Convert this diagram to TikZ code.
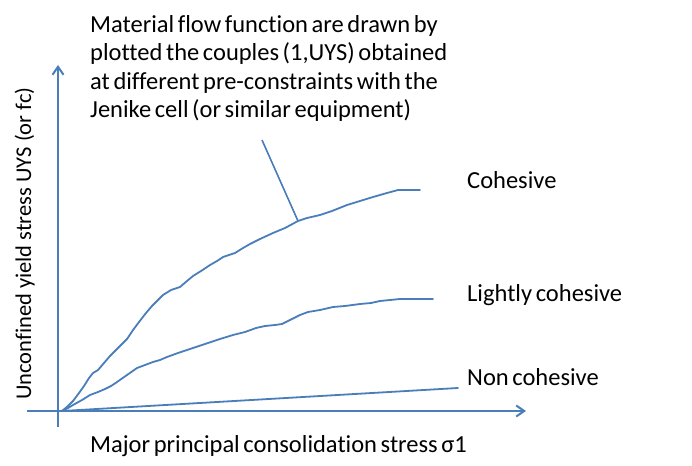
\documentclass[tikz,border=0pt]{standalone}
\usepackage{fontspec}
\setmainfont{Carlito}[Ligatures=NoCommon, WordSpace=0.65]
\newfontfamily\widespaced{Carlito}[Ligatures=NoCommon]
\usetikzlibrary{arrows.meta}
\definecolor{flowblue}{HTML}{4A7EBB}
\tikzset{
  % axes and curves
  axisline/.style={draw=flowblue, line width=2pt, -{Straight Barb[length=8pt,width=11pt]}},
  flowcurve/.style={draw=flowblue, line width=1.8pt, line join=round, line cap=round},
  pointer/.style={draw=flowblue, line width=1.6pt},
  % texts
  plaintext/.style={inner sep=0pt, font=\fontsize{24.5}{28.5}\selectfont},
  sidetext/.style={inner sep=0pt, font=\widespaced\fontsize{22.5}{27}\selectfont},
}

\begin{document}
\begin{tikzpicture}[x=1pt,y=-1pt]
  \useasboundingbox (0,0) rectangle (692,465);
  \coordinate (origin) at (62,411);
  \coordinate (xstart) at (27,411);
  \coordinate (xend) at (526,411);
  \coordinate (ystart) at (58,427);
  \coordinate (yend) at (58,65);
  \draw[axisline] (xstart) -- (xend);
  \draw[axisline] (ystart) -- (yend);
  % flow functions
  \draw[flowcurve] plot coordinates {(62,411) (68,406) (73,401) (79,393)
    (84,386) (89,378) (93,373) (98,370) (104,363) (110,356) (118,348)
    (127,339) (133,330) (139,322) (146,313) (152,306) (158,300) (163,295)
    (171,290) (180,287) (187,281) (193,276) (201,271) (210,265) (217,261)
    (223,257) (229,255) (235,253) (243,248) (250,244) (260,239) (273,233)
    (285,228) (298,221) (307,218) (320,215) (332,211) (337,209) (347,205)
    (360,201) (373,197) (387,193) (398,190) (420,190)};
  \draw[flowcurve] plot coordinates {(62,411) (68,408) (73,405) (82,400)
    (90,395) (98,392) (105,389) (111,386) (117,382) (127,375) (137,368)
    (145,365) (153,362) (160,360) (167,357) (178,353) (190,349) (205,344)
    (220,339) (233,335) (245,332) (256,328) (265,326) (275,325) (282,324)
    (290,320) (300,315) (308,312) (320,310) (333,307) (345,306) (360,304)
    (371,303) (380,301) (390,300) (400,299) (433,299)};
  \coordinate (nonend) at (458,388);
  \draw[flowcurve] (origin) -- (nonend);
  % note and its pointer
  \node[plaintext, align=left, anchor=north west] (note) at (90,15)
    {Material flow function are drawn by\\plotted the couples (1,UYS) obtained\\at different pre-constraints with the\\Jenike cell (or similar equipment)};
  \coordinate (notefoot) at (262,140);
  \coordinate (notetip) at (298,221);
  \draw[pointer] (notefoot) -- (notetip);
  \node[plaintext, anchor=base west] (cohesive) at (467,188) {Cohesive};
  \node[plaintext, anchor=base west] (lightly) at (467,301.5) {Lightly cohesive};
  \node[plaintext, anchor=base west] (noncoh) at (467,385) {Non cohesive};
  \node[plaintext, anchor=base west] (xlabel) at (90,452) {Major principal consolidation stress σ1};
  \node[sidetext, anchor=base west, rotate=90] (ylabel) at (31,400) {Unconfined yield stress UYS (or fc)};
\end{tikzpicture}
\end{document}
